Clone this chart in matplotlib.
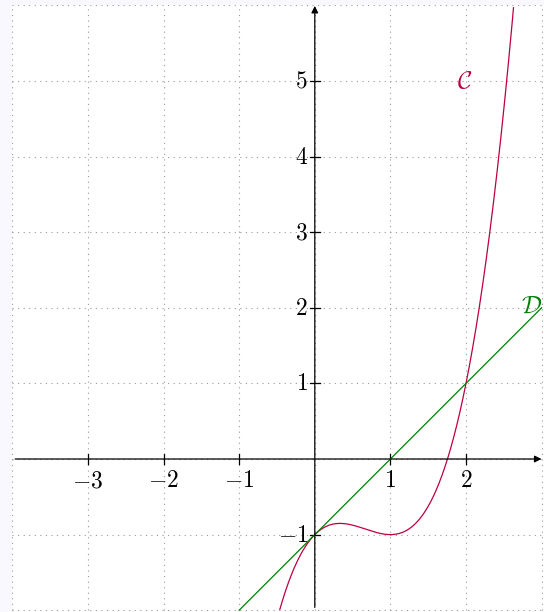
import numpy as np
import matplotlib
matplotlib.use("Agg")
import matplotlib.pyplot as plt

plt.rcParams['mathtext.fontset'] = 'cm'

# courbe C : coefficients du polynome (x^3 - 2x^2 + x - 1)
coef_c = [1, -2, 1, -1]
# droite D : pente et ordonnee a l'origine
coef_d = [1, -1]

x_ticks = [-3, -2, -1, 1, 2]
y_ticks = [-1, 1, 2, 3, 4, 5]
x_grid = [-4, -3, -2, -1, 0, 1, 2, 3]
y_grid = [-2, -1, 0, 1, 2, 3, 4, 5, 6]

xmin, xmax = -4, 3
ymin, ymax = -2, 6

fig = plt.figure(figsize=(5.44, 6.12), dpi=100, facecolor='#f8f8fe')
ax = fig.add_axes([12.4 / 544, 0, (544 - 12.4) / 544, (612 - 5.4) / 612])
ax.set_facecolor('white')
ax.set_xlim(xmin, xmax + 2.4 / 75.6)
ax.set_ylim(ymin - 1.8 / 75.6, ymax)
for s in ax.spines.values():
    s.set_visible(False)
ax.set_xticks([])
ax.set_yticks([])

# grille pointillee
for gx in x_grid:
    ax.plot([gx, gx], [ymin, ymax], ls=(0, (1, 4)), color='#999999', lw=0.8)
for gy in y_grid:
    ax.plot([xmin, xmax], [gy, gy], ls=(0, (1, 4)), color='#999999', lw=0.8)

# axes avec fleches
ax.annotate('', xy=(xmax + 0.035, 0), xytext=(xmin, 0), annotation_clip=False,
            arrowprops=dict(arrowstyle='-|>', color='black', lw=0.9, mutation_scale=10))
ax.annotate('', xy=(0, ymax + 0.03), xytext=(0, ymin), annotation_clip=False,
            arrowprops=dict(arrowstyle='-|>', color='black', lw=0.9, mutation_scale=10))

t = 0.07
for v in x_ticks:
    ax.plot([v, v], [-t, t], color='black', lw=0.9)
    ax.text(v, -0.12, '$%d$' % v, ha='center', va='top', fontsize=17)
for v in y_ticks:
    ax.plot([-t, t], [v, v], color='black', lw=0.9)
    ax.text(-0.09, v, '$%d$' % v, ha='right', va='center', fontsize=17)

# courbe C
xs = np.linspace(-0.6, 2.7, 600)
ys = np.polyval(coef_c, xs)
m = (ys >= ymin) & (ys <= ymax)
ax.plot(xs[m], ys[m], color='#bf0040', lw=0.9)

# droite D
xd = np.linspace(-1, 3, 50)
ax.plot(xd, np.polyval(coef_d, xd), color='#007f00', lw=0.9)

ax.text(1.98, 5.0, r'$\mathcal{C}$', color='#bf0040', fontsize=18, ha='center', va='center')
ax.text(2.87, 2.02, r'$\mathcal{D}$', color='#007f00', fontsize=18, ha='center', va='center')

fig.savefig('out.png', dpi=100, facecolor=fig.get_facecolor())
